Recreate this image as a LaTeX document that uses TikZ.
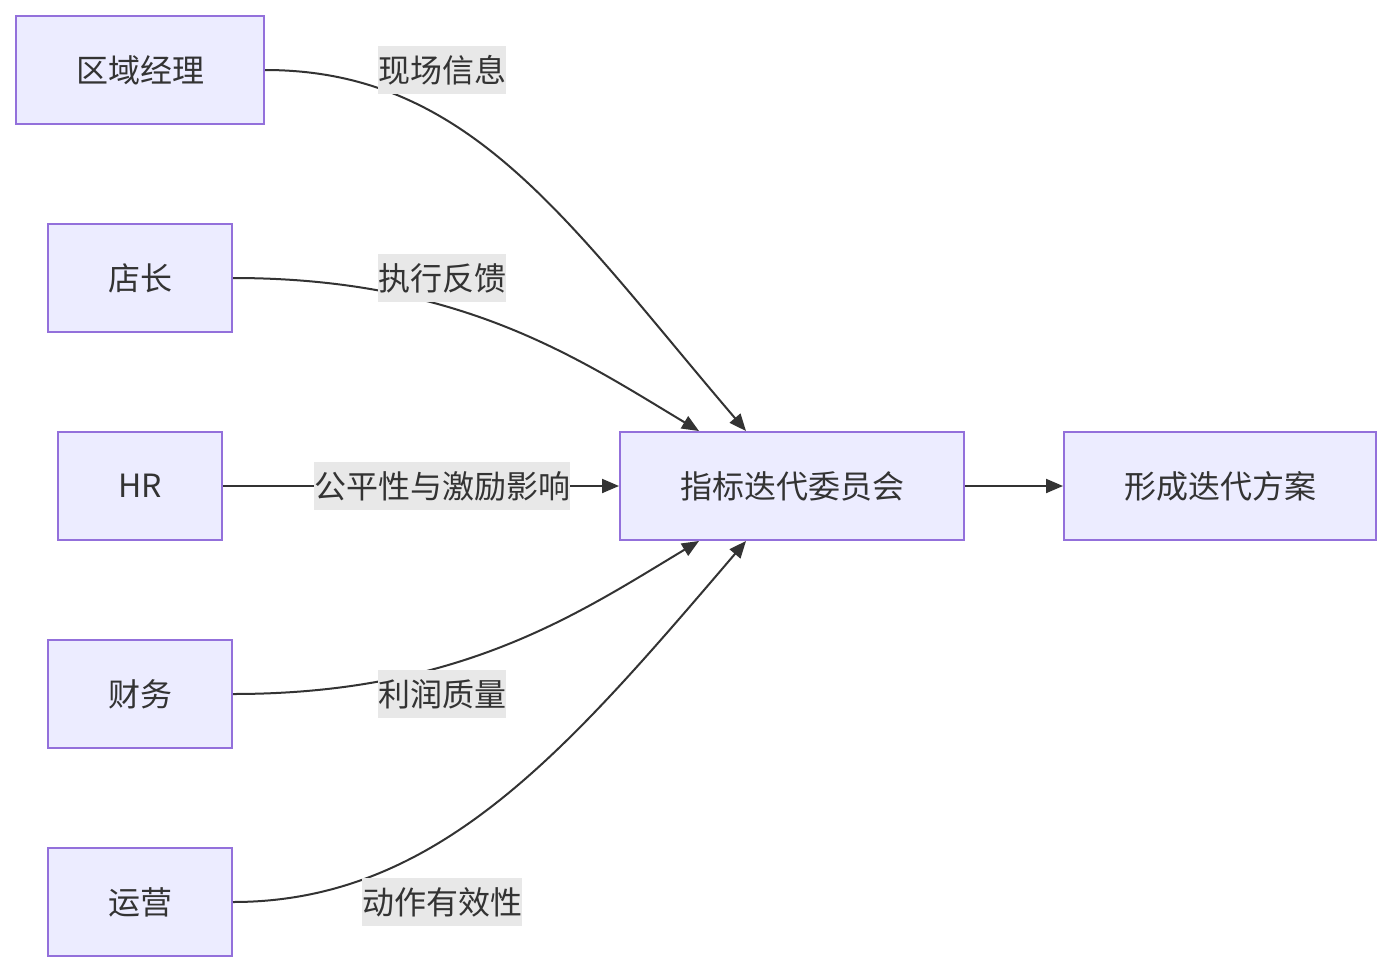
\documentclass[tikz,border=0pt]{standalone}
\usepackage{fontspec}
\setmainfont{Noto Sans CJK SC}
\usetikzlibrary{arrows.meta}
\definecolor{boxfill}{HTML}{ECECFF}
\definecolor{boxline}{HTML}{9370DB}
\definecolor{ink}{HTML}{333333}
\definecolor{tagfill}{HTML}{E8E8E8}
\begin{document}
\begin{tikzpicture}[x=1pt,y=-1pt,
    box/.style={draw=boxline,line width=2pt,fill=boxfill,minimum height=108pt,
        inner xsep=60pt,text=ink,font=\fontsize{32}{38}\selectfont},
    tag/.style={fill=tagfill,inner xsep=0pt,inner ysep=0pt,minimum height=48pt,
        text=ink,font=\fontsize{32}{38}\selectfont},
    link/.style={draw=ink,line width=2pt,-{Triangle[length=17pt,width=14pt]}}]
    \useasboundingbox (0,0) rectangle (1392,972);
    % sources on the left
    \foreach \y/\name/\txt in {70/rm/区域经理,278/dz/店长,486/hr/HR,694/cw/财务,902/yy/运营}
        \node[box] (\name) at (140,\y) {\txt};
    \node[box] (cm) at (792,486) {指标迭代委员会};
    \node[box] (fa) at (1220,486) {形成迭代方案};
    % connectors
    \draw[link] (rm.east) .. controls +(206,0) and +(-177,-207) .. ([xshift=127pt]cm.north west);
    \draw[link] (dz.east) .. controls +(228,0) and +(-120,-72) .. ([xshift=80pt]cm.north west);
    \draw[link] (hr) -- (cm);
    \draw[link] (cw.east) .. controls +(228,0) and +(-120,72) .. ([xshift=80pt]cm.south west);
    \draw[link] (yy.east) .. controls +(206,0) and +(-177,207) .. ([xshift=127pt]cm.south west);
    \draw[link] (cm) -- (fa);
    % edge labels
    \foreach \y/\name/\txt in {70/t1/现场信息,278/t2/执行反馈,486/t3/公平性与激励影响,694/t4/利润质量,902/t5/动作有效性}
        \node[tag] (\name) at (442,\y) {\txt};
\end{tikzpicture}
\end{document}
